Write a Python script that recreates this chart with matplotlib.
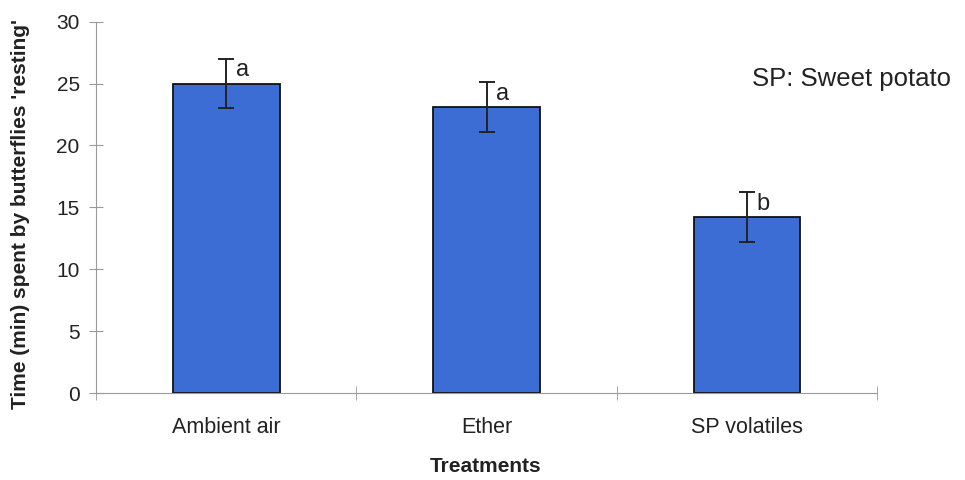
import matplotlib
matplotlib.use("Agg")
import matplotlib.pyplot as plt

# values
treatments = ["Ambient air", "Ether", "SP volatiles"]
mean_time = [25.0, 23.1, 14.2]
err = [2.0, 2.0, 2.0]
letters = ["a", "a", "b"]
y_ticks = [0, 5, 10, 15, 20, 25, 30]

plt.rcParams["font.family"] = ["Liberation Sans", "DejaVu Sans"]
AX = "#9a9a9a"
INK = "#222222"

fig = plt.figure(figsize=(9.65, 4.8), dpi=100)
ax = fig.add_axes([0.0995, 0.181, 0.8095, 0.774])

x = range(len(treatments))
ax.bar(x, mean_time, width=0.41, color="#3c6dd5", edgecolor="#111111", linewidth=1.3, zorder=2)
ax.errorbar(x, mean_time, yerr=err, fmt="none", ecolor=INK, elinewidth=1.4,
            capsize=6, capthick=1.4, zorder=3)
# significance letters sit just right of the upper cap
for xi, m, e, lab in zip(x, mean_time, err, letters):
    ax.text(xi + 0.036, m + e - 1.4, lab, fontsize=17, ha="left", va="baseline", color=INK)

ax.set_xlim(-0.5, 2.5)
ax.set_ylim(0, 30)
ax.set_yticks(y_ticks)
ax.set_xticks(list(x))
ax.set_xticklabels(treatments, fontsize=15.5, color=INK)
ax.set_xticks([-0.5, 0.5, 1.5, 2.5], minor=True)
ax.tick_params(axis="x", which="major", length=0, pad=17.5)
ax.tick_params(axis="x", which="minor", length=10, direction="inout", color=AX)
ax.tick_params(axis="y", length=9.5, direction="inout", color=AX, labelsize=15,
               labelcolor=INK, pad=7)

for s in ("top", "right"):
    ax.spines[s].set_visible(False)
for s in ("left", "bottom"):
    ax.spines[s].set_color(AX)

fig.text(0.021, 1 - 214 / 480, "Time (min) spent by butterflies 'resting'", rotation=90,
         fontsize=15, fontweight="bold", ha="center", va="center", color=INK)
fig.text(0.5035, 1 - 467 / 480, "Treatments", fontsize=15, fontweight="bold",
         ha="center", va="center", color=INK)
fig.text(0.779, 0.835, "SP: Sweet potato", fontsize=18.5, va="center", color=INK)

fig.savefig("out.png", dpi=100)
